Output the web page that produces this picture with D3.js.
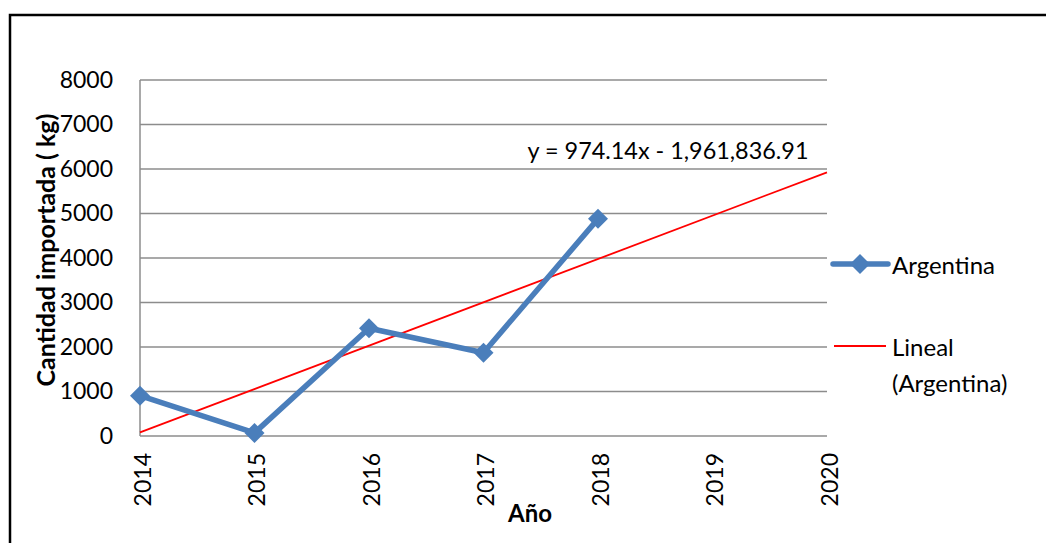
<!DOCTYPE html>
<html>
<head>
<meta charset="utf-8">
<script src="https://cdn.jsdelivr.net/npm/d3@7"></script>
<style>
  html, body { margin: 0; padding: 0; background: #fff; }
  svg { display: block; }
  text { font-family: Lato, "Liberation Sans", sans-serif; fill: #000; }
</style>
</head>
<body>
<svg id="chart" width="1046" height="543"></svg>
<script>
// Imported quantity (kg) of Argentina by year
const years = [2014, 2015, 2016, 2017, 2018];
const argentina = [905, 70, 2420, 1870, 4880];
// Axis categories (the trend line extends to 2020)
const axisYears = [2014, 2015, 2016, 2017, 2018, 2019, 2020];
const yTicks = [0, 1000, 2000, 3000, 4000, 5000, 6000, 7000, 8000];
// Linear trend coefficients: y = slope * x + intercept
const trendSlope = 974.14;
const trendIntercept = -1961836.91;

const svg = d3.select("#chart");
const W = 1046, H = 543;
const plot = { left: 140, right: 827, top: 80, bottom: 436 };

// outer chart frame
svg.append("rect")
  .attr("x", 10).attr("y", 15)
  .attr("width", W).attr("height", H)
  .attr("fill", "none").attr("stroke", "#000").attr("stroke-width", 2.5);

const x = d3.scalePoint().domain(axisYears).range([plot.left, plot.right]);
const y = d3.scaleLinear().domain([0, 8000]).range([plot.bottom, plot.top]);

// horizontal gridlines
svg.append("g").selectAll("line").data(yTicks).join("line")
  .attr("x1", plot.left).attr("x2", plot.right)
  .attr("y1", d => y(d)).attr("y2", d => y(d))
  .attr("stroke", "#8c8c8c").attr("stroke-width", 1.5);

// vertical axis line
svg.append("line")
  .attr("x1", plot.left).attr("x2", plot.left)
  .attr("y1", plot.top).attr("y2", plot.bottom)
  .attr("stroke", "#8c8c8c").attr("stroke-width", 1.5);

// y tick labels
const yAxis = d3.axisLeft(y).tickValues(yTicks).tickSize(0).tickPadding(27)
  .tickFormat(d3.format("d"));
const gy = svg.append("g").attr("transform", `translate(${plot.left},0)`).call(yAxis);
gy.select(".domain").remove();
gy.selectAll("text").style("font-size", "23px").style("font-family", "Lato, sans-serif");

// x tick labels, rotated
const xAxis = d3.axisBottom(x).tickSize(0).tickPadding(0).tickFormat(d3.format("d"));
const gx = svg.append("g").attr("transform", `translate(0,${plot.bottom})`).call(xAxis);
gx.select(".domain").remove();
gx.selectAll("text")
  .style("font-size", "23px").style("font-family", "Lato, sans-serif")
  .attr("text-anchor", "end").attr("dy", null).attr("y", 0)
  .attr("dominant-baseline", "central")
  .attr("transform", "translate(1,17) rotate(-90)");

// linear trend line from its equation
const trend = d => trendSlope * d + trendIntercept;
const trendYears = [axisYears[0], axisYears[axisYears.length - 1]];
svg.append("path")
  .datum(trendYears)
  .attr("fill", "none").attr("stroke", "#ff0000").attr("stroke-width", 1.8)
  .attr("d", d3.line().x(d => x(d)).y(d => y(trend(d))));

// data series
const blue = "#4a7ebb";
const series = years.map((yr, i) => ({ yr, v: argentina[i] }));
svg.append("path")
  .datum(series)
  .attr("fill", "none").attr("stroke", blue).attr("stroke-width", 5.5)
  .attr("stroke-linejoin", "round")
  .attr("d", d3.line().x(d => x(d.yr)).y(d => y(d.v)));

const marker = d3.symbol().type(d3.symbolSquare).size(200);
svg.append("g").selectAll("path").data(series).join("path")
  .attr("d", marker)
  .attr("fill", blue)
  .attr("transform", d => `translate(${x(d.yr)},${y(d.v)}) rotate(45)`);

// trend equation label
svg.append("text")
  .attr("x", 668).attr("y", 159)
  .attr("text-anchor", "middle")
  .style("font-size", "23.4px")
  .text("y = 974.14x - 1,961,836.91");

// axis titles
svg.append("text")
  .attr("x", 530).attr("y", 522)
  .attr("text-anchor", "middle")
  .style("font-size", "24px").style("font-weight", "bold")
  .text("Año");

svg.append("text")
  .attr("transform", "translate(55,250) rotate(-90)")
  .attr("text-anchor", "middle")
  .style("font-size", "25px").style("font-weight", "bold")
  .text("Cantidad importada ( kg)");

// legend
const lg = svg.append("g");
lg.append("line").attr("x1", 833).attr("x2", 888).attr("y1", 264).attr("y2", 264)
  .attr("stroke", blue).attr("stroke-width", 5.5).attr("stroke-linecap", "round");
lg.append("path").attr("d", marker).attr("fill", blue)
  .attr("transform", "translate(860,264) rotate(45)");
lg.append("text").attr("x", 892).attr("y", 264).attr("dominant-baseline", "central")
  .style("font-size", "24px").text("Argentina");

lg.append("line").attr("x1", 834).attr("x2", 886).attr("y1", 346).attr("y2", 346)
  .attr("stroke", "#ff0000").attr("stroke-width", 1.8);
lg.append("text").attr("x", 892).attr("y", 346).attr("dominant-baseline", "central")
  .style("font-size", "24px").text("Lineal");
lg.append("text").attr("x", 892).attr("y", 382).attr("dominant-baseline", "central")
  .style("font-size", "24px").text("(Argentina)");
</script>
</body>
</html>
